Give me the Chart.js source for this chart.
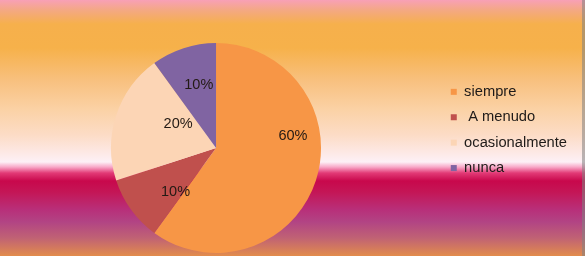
<!DOCTYPE html>
<html>
<head>
<meta charset="utf-8">
<script src="https://cdn.jsdelivr.net/npm/chart.js@4.4.0/dist/chart.umd.min.js"></script>
<style>
    html, body {
        margin: 0;
        padding: 0;
    }
    .chart-wrap {
        position: relative;
        width: 585px;
        height: 256px;
        overflow: hidden;
        background: linear-gradient(to bottom,
            #f8a0b6 0px,
            #f4a884 10px,
            #f6b04c 24px,
            #f6b14a 48px,
            #f8c07e 80px,
            #fbd2a6 110px,
            #fcdcc6 135px,
            #fde8e4 152px,
            #fdf0f6 162px,
            #f8a8c8 167px,
            #e23a76 173px,
            #c8084c 181px,
            #c41656 192px,
            #b8307a 210px,
            #b24484 222px,
            #c06274 238px,
            #e28c4c 256px);
    }
    /* canvas starts a little left of the frame so the pie sits where the original has it */
    #frequencyChart {
        position: absolute;
        left: -8px;
        top: 0;
    }
    .chart-wrap::after {
        content: '';
        position: absolute;
        top: 0;
        right: 0;
        width: 3px;
        height: 100%;
        background: rgba(130, 130, 130, 0.55);
    }
</style>
</head>
<body>
<div class="chart-wrap">
    <canvas id="frequencyChart" width="593" height="256"></canvas>
</div>
<script>
// Data
const categories = ['siempre', ' A menudo', 'ocasionalmente', 'nunca'];
const percentages = [60, 10, 20, 10];
const sliceColors = ['#f79646', '#c0504d', '#fcd5b5', '#8064a2'];

const FONT = "'Liberation Sans', Arial, sans-serif";

// small shifts from the slice centre, to sit labels where the original has them
const LABEL_NUDGE = [[27, -28], [2, 13], [12, -8], [-1, -13]];

// Percent labels drawn on the slices
const sliceLabels = {
    id: 'sliceLabels',
    afterDatasetsDraw(chart) {
        const ctx = chart.ctx;
        const meta = chart.getDatasetMeta(0);
        ctx.save();
        ctx.font = '14.5px ' + FONT;
        ctx.fillStyle = '#231a14';
        ctx.textAlign = 'center';
        ctx.textBaseline = 'middle';
        meta.data.forEach((arc, i) => {
            const pos = arc.tooltipPosition();
            const nudge = LABEL_NUDGE[i];
            ctx.fillText(percentages[i] + '%', pos.x + nudge[0], pos.y + nudge[1]);
        });
        ctx.restore();
    }
};

new Chart(document.getElementById('frequencyChart'), {
    type: 'pie',
    data: {
        labels: categories,
        datasets: [{
            data: percentages,
            backgroundColor: sliceColors,
            borderWidth: 0
        }]
    },
    options: {
        responsive: false,
        animation: false,
        layout: {
            padding: { top: 43, bottom: 3, left: 0, right: 8 }
        },
        plugins: {
            tooltip: { enabled: false },
            legend: {
                position: 'right',
                align: 'start',
                // blank title only used as a spacer above the items
                title: {
                    display: true,
                    text: ' ',
                    font: { size: 10 },
                    padding: { top: 18.8, bottom: 0 }
                },
                labels: {
                    boxWidth: 6,
                    boxHeight: 6,
                    padding: 10.7,
                    color: '#1e1a18',
                    font: { size: 14.7, family: FONT }
                }
            }
        }
    },
    plugins: [sliceLabels]
});
</script>
</body>
</html>
